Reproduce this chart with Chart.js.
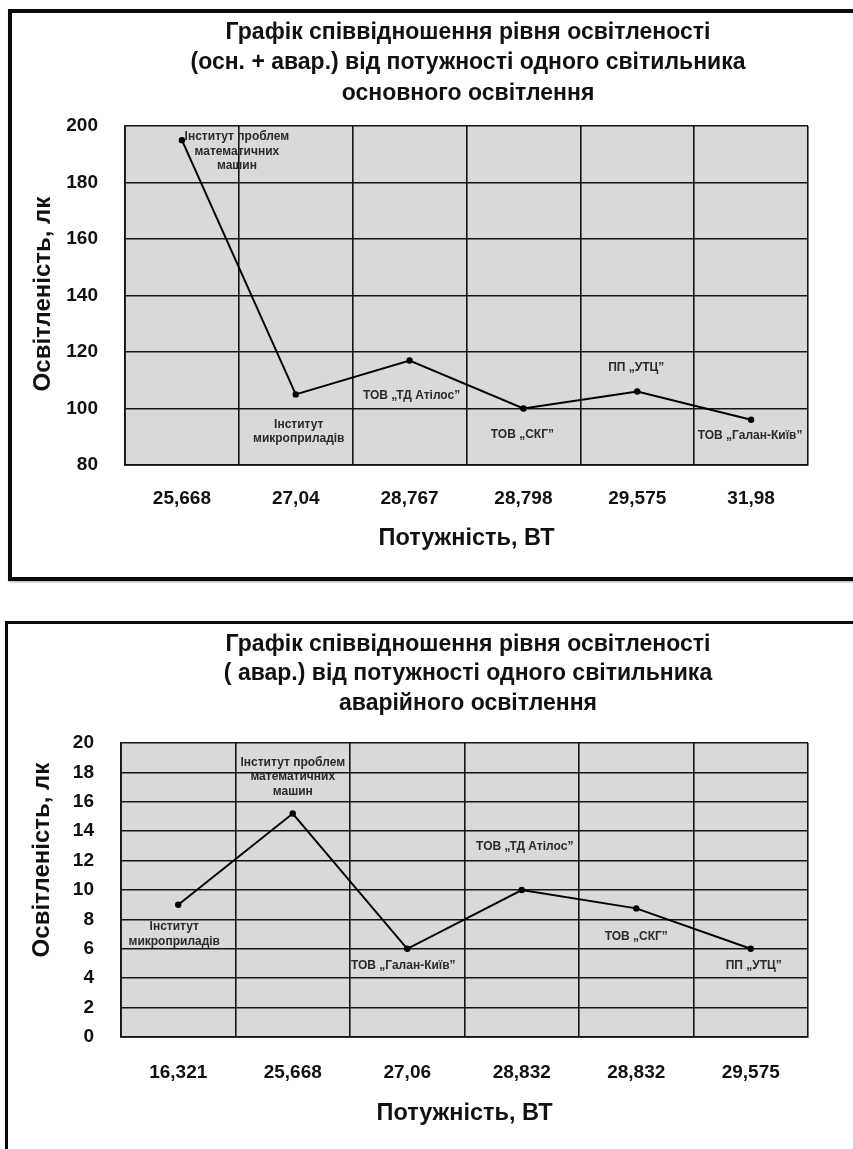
<!DOCTYPE html>
<html>
<head>
<meta charset="utf-8">
<script src="https://cdn.jsdelivr.net/npm/chart.js@4.4.1/dist/chart.umd.min.js"></script>
<style>
html,body{margin:0;padding:0;background:#fff;width:853px;height:1149px;overflow:hidden;position:relative;}
.frame{position:absolute;border:3px solid #0a0a0a;box-sizing:border-box;box-shadow:1px 1px 2px rgba(0,0,0,0.35);}
canvas{position:absolute;left:0;}
</style>
</head>
<body>
<div class="frame" style="left:8px;top:9px;width:900px;height:572px;border-width:4px;"></div>
<div class="frame" style="left:5px;top:621px;width:900px;height:600px;"></div>
<canvas id="c1" style="top:0;width:853px;height:600px;" width="853" height="600"></canvas>
<canvas id="c2" style="top:600px;width:853px;height:549px;" width="853" height="549"></canvas>
<script>
// ---------- DATA ----------
const titleTop = ['Графік співвідношення рівня освітленості', '(осн. + авар.) від потужності одного світильника', 'основного освітлення'];
const powerTop = ['25,668', '27,04', '28,767', '28,798', '29,575', '31,98'];
const illuminanceTop = [195, 105, 117, 100, 106, 96];
const namesTop = [['Інститут проблем', 'математичних', 'машин'], ['Інститут', 'микроприладів'], ['ТОВ „ТД Атілос”'], ['ТОВ „СКГ”'], ['ПП „УТЦ”'], ['ТОВ „Галан-Київ”']];
const yMinTop = 80, yMaxTop = 200, yStepTop = 20;

const titleBottom = ['Графік співвідношення рівня освітленості', '( авар.) від потужності одного світильника', 'аварійного освітлення'];
const powerBottom = ['16,321', '25,668', '27,06', '28,832', '28,832', '29,575'];
const illuminanceBottom = [9, 15.2, 6, 10, 8.75, 6];
const namesBottom = [['Інститут', 'микроприладів'], ['Інститут проблем', 'математичних', 'машин'], ['ТОВ „Галан-Київ”'], ['ТОВ „ТД Атілос”'], ['ТОВ „СКГ”'], ['ПП „УТЦ”']];
const yMinBottom = 0, yMaxBottom = 20, yStepBottom = 2;

const yTitle = 'Освітленість, лк';
const xTitle = 'Потужність, ВТ';

// ---------- placement of the point name labels (offsets from each point) ----------
const nameOffsetsTop = [[55, -3], [3, 30], [2, 35], [-1, 26], [-1, -24], [-1, 16]];
const nameOffsetsBottom = [[-4, 22], [0, -51], [-4, 17], [3, -43], [0, 28], [3, 17]];

const FONT = "'Liberation Sans', Arial, Helvetica, sans-serif";

const decor = {
  id: 'decor',
  beforeDraw(chart, args, o) {
    const {ctx, chartArea: a} = chart;
    ctx.save();
    ctx.fillStyle = o.bg;
    ctx.fillRect(a.left, a.top, a.right - a.left, a.bottom - a.top);
    ctx.restore();
  },
  afterDraw(chart, args, o) {
    const ctx = chart.ctx;
    ctx.save();
    ctx.textAlign = 'center';
    ctx.textBaseline = 'middle';
    ctx.fillStyle = '#111';
    ctx.font = 'bold ' + o.titleSize + 'px ' + FONT;
    o.title.forEach((t, i) => ctx.fillText(t, o.titleX, o.titleY[i]));
    ctx.save();
    ctx.translate(o.yTitleX, o.yTitleY);
    ctx.rotate(-Math.PI / 2);
    ctx.font = 'bold ' + o.yTitleSize + 'px ' + FONT;
    ctx.fillText(o.yTitle, 0, 0);
    ctx.restore();
    const meta = chart.getDatasetMeta(0);
    ctx.font = 'bold 12px ' + FONT;
    ctx.fillStyle = '#2a2a2a';
    meta.data.forEach((pt, i) => {
      const lines = o.names[i];
      const off = o.offsets[i];
      lines.forEach((l, j) => ctx.fillText(l, pt.x + off[0], pt.y + off[1] + j * o.lh));
    });
    ctx.restore();
  }
};

function makeChart(id, cfg) {
  return new Chart(document.getElementById(id), {
    type: 'line',
    data: {
      labels: cfg.labels,
      datasets: [{
        data: cfg.values,
        borderColor: '#000',
        borderWidth: 2,
        pointRadius: 3.2,
        pointBackgroundColor: '#000',
        pointBorderColor: '#000',
        pointBorderWidth: 0,
        tension: 0,
        fill: false
      }]
    },
    options: {
      responsive: false,
      animation: false,
      devicePixelRatio: 1,
      layout: {padding: {left: 10, right: 45, top: cfg.top, bottom: 0}},
      plugins: {
        legend: {display: false},
        tooltip: {enabled: false},
        title: {display: false},
        decor: {
          bg: '#d9d9d9',
          title: cfg.title, titleX: 468, titleY: cfg.titleY, titleSize: 23,
          yTitle: yTitle, yTitleX: cfg.yTitleX, yTitleY: cfg.yTitleY, yTitleSize: 24,
          names: cfg.names, offsets: cfg.offsets, lh: 14.5
        }
      },
      scales: {
        x: {
          type: 'category',
          offset: true,
          grid: {offset: true, color: '#151515', lineWidth: 1.6, drawTicks: false},
          border: {display: true, color: '#151515', width: 1.8},
          ticks: {color: '#111', font: {family: FONT, size: 19, weight: 'bold'}, padding: cfg.xPad, maxRotation: 0, autoSkip: false},
          title: {display: true, text: xTitle, color: '#111', font: {family: FONT, size: 23.5, weight: 'bold'}, padding: {top: 0, bottom: cfg.xTitlePad}},
          afterFit(s) { s.height = cfg.xHeight; }
        },
        y: {
          min: cfg.min, max: cfg.max,
          grid: {color: '#151515', lineWidth: 1.6, drawTicks: false},
          border: {display: true, color: '#151515', width: 1.8},
          ticks: {stepSize: cfg.step, color: '#111', font: {family: FONT, size: 19, weight: 'bold'}, padding: 27},
          afterFit(s) { s.width = cfg.yWidth; }
        }
      }
    },
    plugins: [decor]
  });
}

makeChart('c1', {
  labels: powerTop, values: illuminanceTop, names: namesTop, offsets: nameOffsetsTop,
  min: yMinTop, max: yMaxTop, step: yStepTop,
  title: titleTop, titleY: [33, 63, 94],
  yTitleX: 43, yTitleY: 294,
  top: 126, yWidth: 115, xHeight: 600 - 465, xPad: 22, xTitlePad: 600 - 539 - 14
});

makeChart('c2', {
  labels: powerBottom, values: illuminanceBottom, names: namesBottom, offsets: nameOffsetsBottom,
  min: yMinBottom, max: yMaxBottom, step: yStepBottom,
  title: titleBottom, titleY: [45, 74, 104],
  yTitleX: 42, yTitleY: 260,
  top: 143, yWidth: 111, xHeight: 549 - 437, xPad: 24.6, xTitlePad: 549 - 514 - 14
});
</script>
</body>
</html>
